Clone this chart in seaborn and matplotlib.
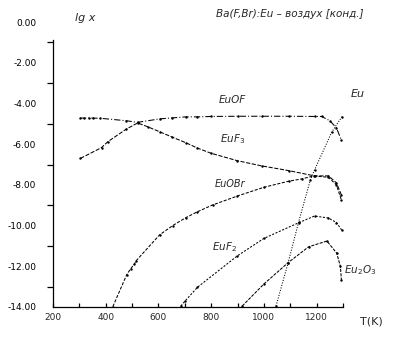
import matplotlib
matplotlib.use("Agg")
import matplotlib.pyplot as plt
import seaborn as sns
import numpy as np

sns.set_theme(style="white")
plt.rcParams['font.family'] = ['DejaVu Sans']

# --- data (T in K, lg x) ---
euof_T = [302, 318, 335, 352, 380, 478, 521, 604, 653, 704, 747, 800, 900, 992, 1094, 1192, 1219, 1250, 1275, 1294]
euof_v = [-4.72, -4.72, -4.72, -4.72, -4.73, -4.85, -4.93, -4.76, -4.71, -4.66, -4.66, -4.64, -4.63, -4.63, -4.63, -4.64, -4.64, -4.85, -5.2, -5.8]

euf3_T = [304, 384, 408, 478, 521, 560, 604, 653, 704, 747, 800, 898, 992, 1094, 1192, 1245, 1275, 1294]
euf3_v = [-6.70, -6.17, -5.88, -5.26, -4.96, -5.15, -5.39, -5.66, -5.93, -6.19, -6.45, -6.81, -7.07, -7.30, -7.56, -7.56, -7.9, -8.5]

euobr_T = [427, 479, 494, 509, 516, 604, 654, 704, 748, 805, 899, 1000, 1094, 1143, 1189, 1245, 1275, 1294]
euobr_v = [-13.98, -12.43, -12.13, -11.89, -11.72, -10.46, -10.0, -9.61, -9.32, -8.99, -8.55, -8.12, -7.82, -7.71, -7.56, -7.63, -8.0, -8.75]

euf2_T = [685, 702, 748, 899, 1000, 1132, 1192, 1245, 1275, 1295]
euf2_v = [-13.95, -13.69, -13.03, -11.49, -10.63, -9.86, -9.53, -9.63, -9.85, -10.22]

eu2o3_T = [918, 1000, 1092, 1170, 1239, 1276, 1290, 1294]
eu2o3_v = [-13.95, -12.87, -11.82, -11.04, -10.76, -11.35, -12.0, -12.67]

eu_T = [1046, 1092, 1132, 1176, 1192, 1258, 1296]
eu_v = [-13.95, -11.82, -9.81, -7.76, -7.27, -5.39, -4.65]

y_ticks = [0, -2, -4, -6, -8, -10, -12, -14]
y_tick_labels = ["0.00", "-2.00", "-4.00", "-6.00", "-8.00", "-10.00", "-12.00", "-14.00"]
x_ticks = [200, 400, 600, 800, 1000, 1200]
x_tick_labels = ["200", "400", "600", "800", "1000", "1200"]

fig = plt.figure(figsize=(4.0, 3.43), dpi=100)
ax = fig.add_axes([53/400, 36/343, 290/400, 285/343])

series = [
    (euof_T, euof_v, (6, 2, 1, 2)),
    (euf3_T, euf3_v, (4, 1.5)),
    (euobr_T, euobr_v, (3, 1.5)),
    (euf2_T, euf2_v, (2, 1.5)),
    (eu2o3_T, eu2o3_v, (3, 1.2)),
    (eu_T, eu_v, (1, 1.5)),
]
for T, v, dash in series:
    sns.lineplot(x=T, y=v, ax=ax, sort=False, estimator=None, color="black",
                 linewidth=0.75, marker=".", markersize=3.5, markeredgewidth=0)
    ax.lines[-1].set_dashes(dash)

ax.set_xlim(200, 1295)
ax.set_ylim(-14, 0)
for s in ["top", "right"]:
    ax.spines[s].set_visible(False)
ax.spines["left"].set_bounds(-14, -0.9)
for s in ["left", "bottom"]:
    ax.spines[s].set_color("black")
    ax.spines[s].set_linewidth(0.9)

ax.set_yticks(y_ticks)
ax.set_yticklabels(y_tick_labels)
ax.set_yticks([-1, -3, -5, -7, -9, -11, -13], minor=True)
ax.set_xticks(x_ticks)
ax.set_xticklabels(x_tick_labels)
ax.set_xticks([300, 500, 700, 900, 1100, 1300], minor=True)
ax.tick_params(axis="y", which="major", left=False, labelsize=6.5, pad=6, colors="black")
ax.tick_params(axis="y", which="minor", left=True, length=4, width=0.9, direction="out", color="black")
ax.tick_params(axis="x", which="both", bottom=True, length=3, width=0.9, direction="in", color="black", labelsize=6.5, pad=4)
ax.set_xlabel("")
ax.set_ylabel("")

fig.text(75/400, 1 - 18/343, "lg x", fontsize=8, style="italic", va="center", ha="left")
fig.text(290/400, 1 - 14/343, "Ba(F,Br):Eu – воздух [конд.]", fontsize=7.5, style="italic", va="center", ha="center")
fig.text(360/400, 1 - 322/343, "T(K)", fontsize=8, va="center", ha="left")

ax.text(880, -4.0, "EuOF", fontsize=7.5, style="italic", ha="center")
ax.text(880, -5.9, "EuF$_3$", fontsize=7.5, style="italic", ha="center")
ax.text(870, -8.1, "EuOBr", fontsize=7, style="italic", ha="center")
ax.text(850, -11.2, "EuF$_2$", fontsize=7.5, style="italic", ha="center")
ax.text(1365, -12.35, "Eu$_2$O$_3$", fontsize=7.5, style="italic", ha="center", clip_on=False)
ax.text(1355, -3.7, "Eu", fontsize=8, style="italic", ha="center", clip_on=False)

fig.savefig("out.png", dpi=100, facecolor="white")
